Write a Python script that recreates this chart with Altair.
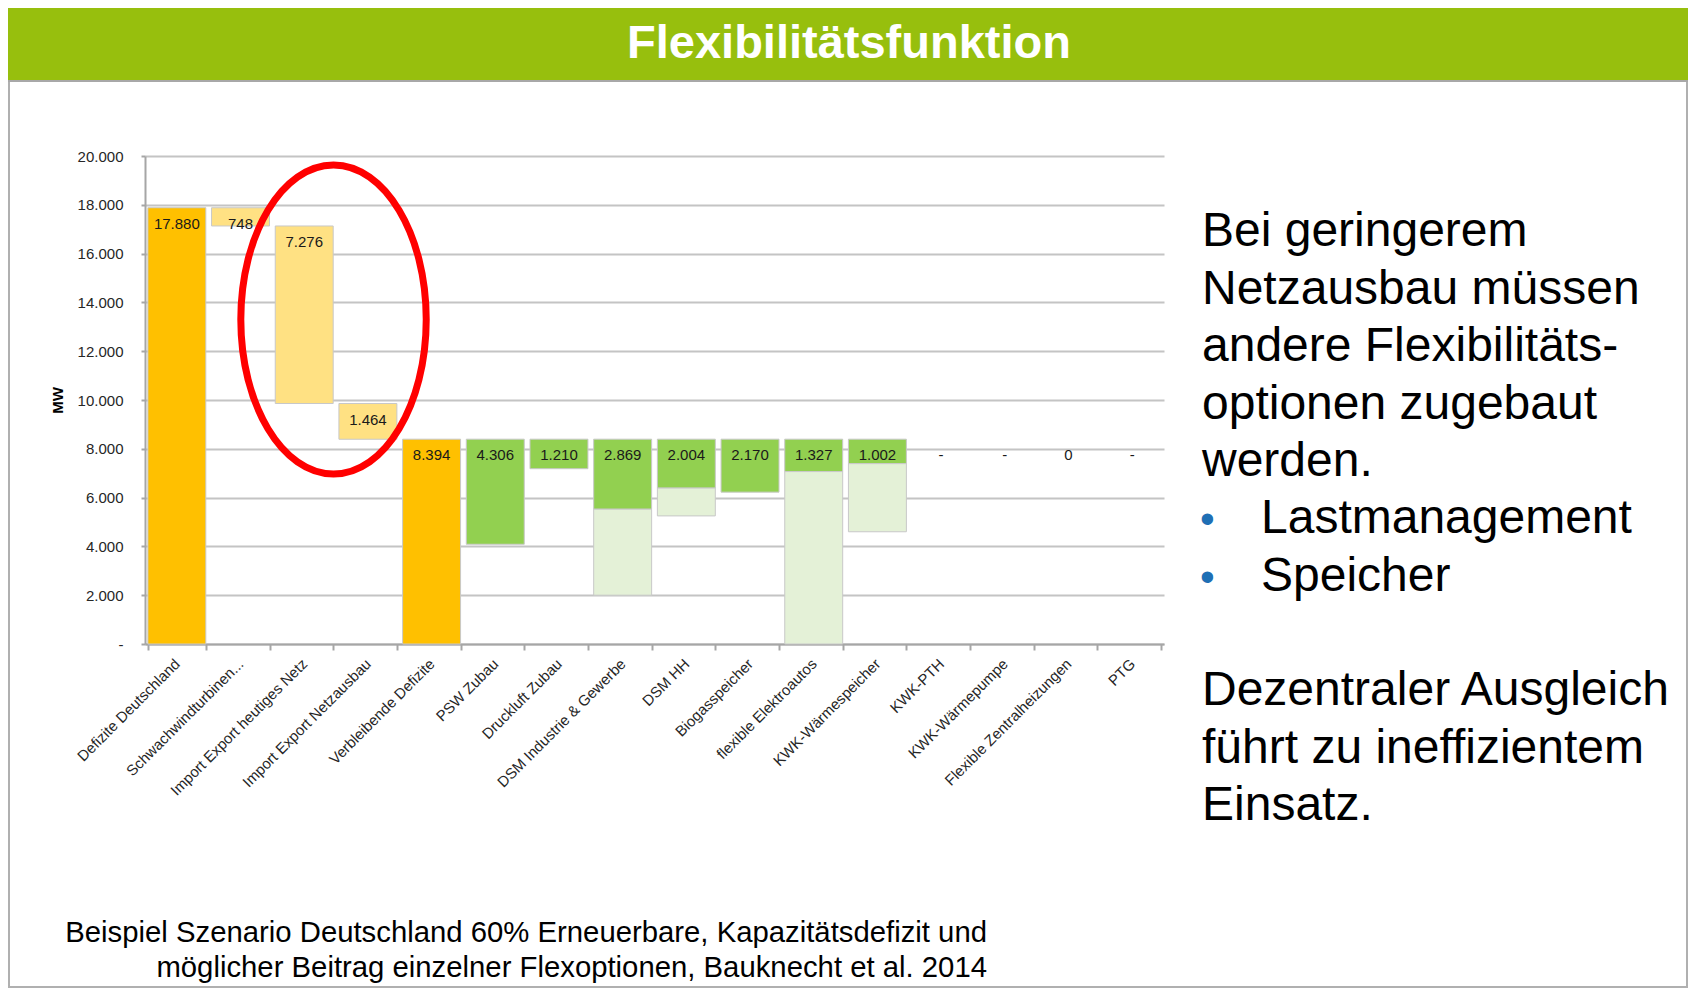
import altair as alt
import pandas as pd

# ---------------- data ----------------
categories = [
    "Defizite Deutschland", "Schwachwindturbinen...", "Import Export heutiges Netz",
    "Import Export Netzausbau", "Verbleibende Defizite", "PSW Zubau", "Druckluft Zubau",
    "DSM Industrie & Gewerbe", "DSM HH", "Biogasspeicher", "flexible Elektroautos",
    "KWK-Wärmespeicher", "KWK-PTH", "KWK-Wärmepumpe", "Flexible Zentralheizungen", "PTG",
]
step_type = ["total", "minus", "minus", "minus", "total"] + ["flex"] * 11
values = [17880, 748, 7276, 1464, 8394, 4306, 1210, 2869, 2004, 2170, 1327, 1002,
          None, None, 0, None]
# lower end of the (unused) potential shown as light green
potential_low = [None, None, None, None, None, None, None, 2000, 5250, None, 0, 4600,
                 None, None, None, None]

ellipse_category = ["Import Export Netzausbau"]
ellipse_value = [13300]

text_block_1 = ["Bei geringerem", "Netzausbau müssen", "andere Flexibilitäts-",
                "optionen zugebaut", "werden."]
bullet_items = ["Lastmanagement", "Speicher"]
text_block_2 = ["Dezentraler Ausgleich", "führt zu ineffizientem", "Einsatz."]
footer_lines = ["Beispiel Szenario Deutschland 60% Erneuerbare, Kapazitätsdefizit und",
                "möglicher Beitrag einzelner Flexoptionen, Bauknecht et al. 2014"]
title_text = "Flexibilitätsfunktion"


def de(v):
    if v is None:
        return "-"
    return f"{v:,}".replace(",", ".")


bar_rows, label_rows = [], []
level = 0
for cat, kind, v, low in zip(categories, step_type, values, potential_low):
    if kind == "total":
        bar_rows.append({"cat": cat, "lo": 0, "hi": v, "kind": "Defizit"})
        level = v
        label_rows.append({"cat": cat, "ly": v, "txt": de(v)})
    elif kind == "minus":
        bar_rows.append({"cat": cat, "lo": level - v, "hi": level, "kind": "Import"})
        label_rows.append({"cat": cat, "ly": level, "txt": de(v)})
        level = level - v
    else:
        if v:
            bar_rows.append({"cat": cat, "lo": level - v, "hi": level, "kind": "Flex"})
            if low is not None:
                bar_rows.append({"cat": cat, "lo": low, "hi": level - v, "kind": "Potenzial"})
        label_rows.append({"cat": cat, "ly": level, "txt": de(v)})

bars = pd.DataFrame(bar_rows)
labels = pd.DataFrame(label_rows)

FONT = "Liberation Sans"
W, H = 1019, 488
PL, PT = 137, 148
PR = 1680 - PL - W
PB = 980 - PT - H

xscale = alt.Scale(domain=categories, paddingInner=0.09, paddingOuter=0.045)
yscale = alt.Scale(domain=[0, 20000], nice=False)

x_axis = alt.Axis(
    title=None, labelAngle=-45, labelAlign="right", labelBaseline="middle",
    labelFontSize=15, labelFont=FONT, labelColor="#262626", labelPadding=11,
    tickBand="extent", tickColor="#A6A6A6", tickSize=6, tickWidth=2,
    domainColor="#A6A6A6", domainWidth=2, grid=False, labelLimit=400,
)
y_axis = alt.Axis(
    title="MW", titleFont=FONT, titleFontSize=15, titleFontWeight="bold",
    titleColor="#000000", titlePadding=12,
    values=list(range(0, 20001, 2000)),
    labelExpr="datum.value == 0 ? '-' : replace(format(datum.value, ','), ',', '.')",
    labelFont=FONT, labelFontSize=15, labelColor="#262626", labelPadding=18,
    gridColor="#C4C4C4", gridWidth=2, domainColor="#A6A6A6", domainWidth=2,
    tickColor="#A6A6A6", tickSize=4, tickWidth=2,
)

bar_layer = alt.Chart(bars).mark_bar(stroke="#C8C8C8", strokeWidth=1).encode(
    x=alt.X("cat:N", scale=xscale, axis=x_axis),
    y=alt.Y("hi:Q", scale=yscale, axis=y_axis),
    y2="lo:Q",
    color=alt.Color("kind:N", legend=None, scale=alt.Scale(
        domain=["Defizit", "Import", "Flex", "Potenzial"],
        range=["#FFC000", "#FFE183", "#92D050", "#E4F1D7"])),
)

label_layer = alt.Chart(labels).mark_text(
    font=FONT, fontSize=15, color="#1A1A1A", baseline="middle", dy=16
).encode(
    x=alt.X("cat:N", scale=xscale),
    y=alt.Y("ly:Q", scale=yscale),
    text="txt:N",
)

ellipse_path = "M -0.635 0 A 0.6 1 0 1 0 0.565 0 A 0.6 1 0 1 0 -0.635 0 Z"
ellipse_layer = alt.Chart(pd.DataFrame({"cat": ellipse_category, "v": ellipse_value})).mark_point(
    shape=ellipse_path, size=95500, filled=False, color="#FF0000", strokeWidth=7, opacity=1
).encode(
    x=alt.X("cat:N", scale=xscale, bandPosition=0),
    y=alt.Y("v:Q", scale=yscale),
)

one = pd.DataFrame({"a": [0]})

band = alt.Chart(one).mark_rect(fill="#97BF0D").encode(
    x=alt.value(-PL), x2=alt.value(W + PR), y=alt.value(-PT), y2=alt.value(-76))
band_line = alt.Chart(one).mark_rule(stroke="#A8A8A8", strokeWidth=2).encode(
    x=alt.value(-PL), x2=alt.value(W + PR), y=alt.value(-75))
frame = alt.Chart(one).mark_rect(fill=None, stroke="#B0B0B0", strokeWidth=2).encode(
    x=alt.value(-PL + 1), x2=alt.value(W + PR - 1), y=alt.value(-PT + 1), y2=alt.value(H + PB - 1))

title = alt.Chart(one).mark_text(
    text=title_text, font=FONT, fontSize=47, fontWeight="bold", color="#FFFFFF",
    align="center", baseline="alphabetic").encode(x=alt.value(704), y=alt.value(-98))

block1 = alt.Chart(one).mark_text(
    text=text_block_1, font=FONT, fontSize=48, lineHeight=57.5, color="#000000",
    align="left", baseline="alphabetic").encode(x=alt.value(1057), y=alt.value(90))
bullets_txt = alt.Chart(one).mark_text(
    text=bullet_items, font=FONT, fontSize=48, lineHeight=57.5, color="#000000",
    align="left", baseline="alphabetic").encode(x=alt.value(1116), y=alt.value(377))
bullets_dot = alt.Chart(one).mark_text(
    text=["•", "•"], font=FONT, fontSize=42, lineHeight=57.5, color="#1F6FB4",
    align="left", baseline="alphabetic").encode(x=alt.value(1055), y=alt.value(377))
block2 = alt.Chart(one).mark_text(
    text=text_block_2, font=FONT, fontSize=48, lineHeight=57.5, color="#000000",
    align="left", baseline="alphabetic").encode(x=alt.value(1057), y=alt.value(549))
footer = alt.Chart(one).mark_text(
    text=footer_lines, font=FONT, fontSize=29.3, lineHeight=34.5, color="#000000",
    align="right", baseline="alphabetic").encode(x=alt.value(842), y=alt.value(786))

chart = alt.layer(
    frame, band, band_line, title, bar_layer, label_layer, ellipse_layer,
    block1, bullets_dot, bullets_txt, block2, footer,
).properties(
    width=W, height=H,
    autosize=alt.AutoSizeParams(type="none"),
    padding={"left": PL, "top": PT, "right": PR, "bottom": PB},
).configure_view(stroke=None)

chart.save("out.html", embed_options={"renderer": "svg", "actions": False})
